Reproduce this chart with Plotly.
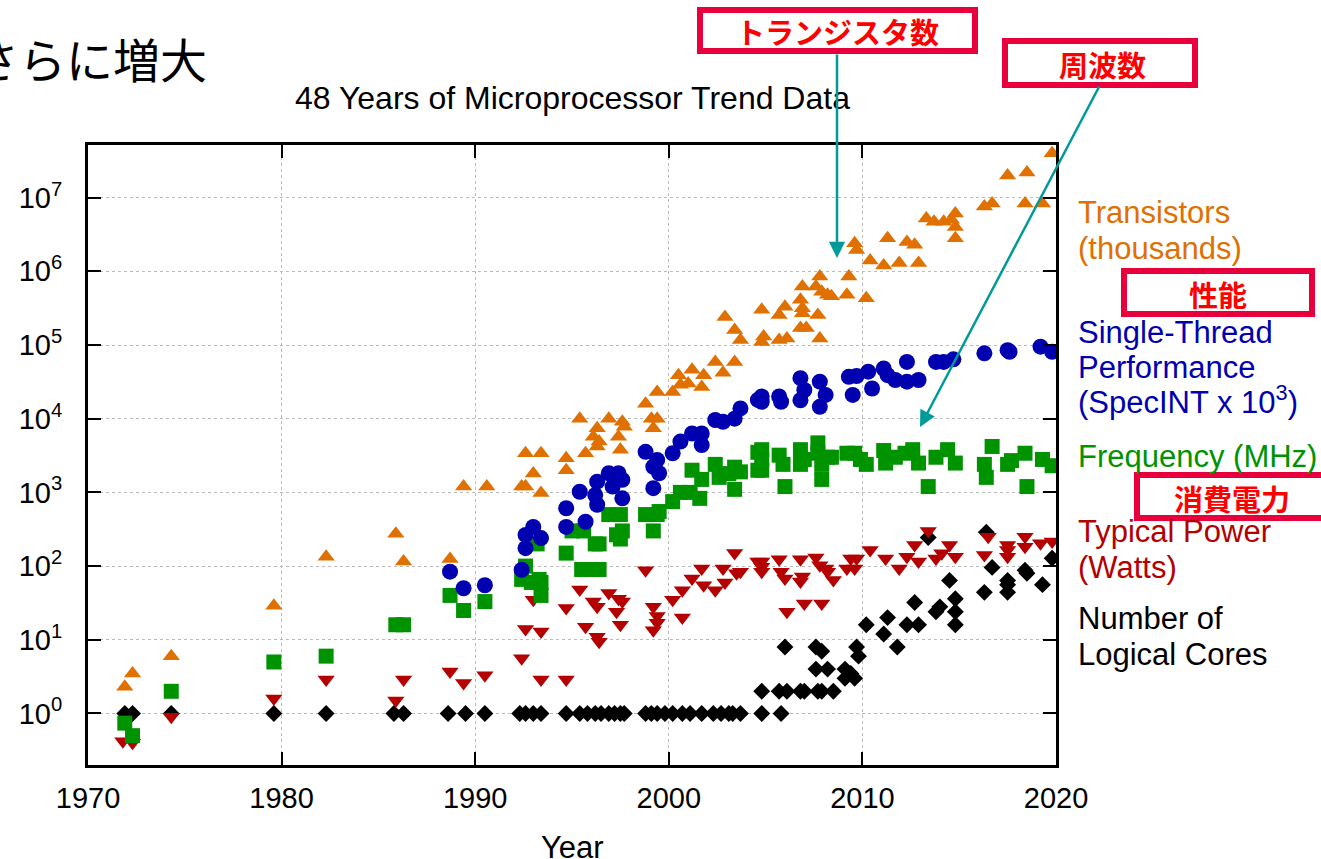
import plotly.graph_objects as go

# ---------------- data ----------------
tr_years = [1971.9, 1972.3, 1974.3, 1979.6, 1982.3, 1985.9, 1986.3, 1988.7, 1989.4, 1990.6,
            1992.4, 1992.6, 1993.4, 1993.0, 1992.6, 1993.4, 1994.7, 1994.7, 1995.4, 1995.7,
            1996.1, 1996.3, 1996.3, 1996.4, 1996.9, 1997.4, 1997.5, 1997.6, 1997.7, 1998.8,
            1999.1, 1999.4, 1999.2, 1999.4, 2000.2, 2000.5, 2000.6, 2001.2, 2001.8, 2001.7,
            2001.0, 2002.4, 2002.8, 2003.4, 2002.9, 2003.4, 2003.7, 2004.8, 2004.9, 2004.8,
            2005.7, 2006.0, 2005.7, 2006.1, 2006.8, 2006.9, 2006.9, 2006.8, 2007.1, 2007.7,
            2007.8, 2006.9, 2007.6, 2007.8, 2007.9, 2008.2, 2008.4, 2009.2, 2009.3, 2010.2,
            2009.6, 2009.7, 2010.4, 2011.1, 2011.9, 2012.9, 2011.3, 2012.3, 2012.7, 2013.3,
            2013.7, 2014.2, 2014.6, 2014.8, 2014.8, 2014.8, 2016.3, 2016.7, 2017.5, 2018.5,
            2018.4, 2019.3, 2019.8]
tr_values = [2.3, 3.5, 6.0, 29, 134, 275, 115, 125, 1200, 1200,
             1200, 1200, 980, 1800, 3400, 3400, 2900, 2000, 10000, 3400,
             5700, 7400, 4200, 4900, 10000, 5700, 3800, 9100, 7800, 16000,
             10000, 10000, 7400, 23000, 23000, 39000, 29000, 46000, 39000, 27000,
             30000, 59000, 42000, 59000, 240000, 160000, 117000, 300000, 130000, 110000,
             255000, 330000, 117000, 123000, 410000, 316000, 270000, 170000, 170000, 255000,
             123000, 620000, 620000, 850000, 530000, 480000, 460000, 480000, 850000, 430000,
             2400000, 1950000, 1400000, 1200000, 1300000, 1300000, 2800000, 2500000, 2300000, 5200000,
             4700000, 4700000, 5000000, 6100000, 4000000, 2800000, 7600000, 8300000, 20000000, 22000000,
             8300000, 8300000, 40000000]

st_years = [1988.7, 1989.4, 1990.5, 1992.4, 1992.6, 1992.6, 1993.0, 1993.4, 1994.7, 1994.7,
            1995.7, 1995.4, 1996.2, 1996.3, 1996.3, 1996.9, 1997.4, 1997.6, 1997.6, 1997.1,
            1998.8, 1999.2, 1999.4, 1999.5, 1999.2, 2000.2, 2000.6, 2001.2, 2001.7, 2001.7,
            2002.4, 2002.8, 2003.4, 2003.7, 2004.6, 2004.8, 2004.8, 2005.7, 2005.8, 2006.8,
            2006.8, 2007.0, 2007.8, 2007.8, 2008.1, 2009.3, 2009.7, 2010.3, 2009.5, 2010.5,
            2011.1, 2011.3, 2011.7, 2012.3, 2012.9, 2012.3, 2013.8, 2014.2, 2014.7, 2016.3,
            2017.5, 2017.6, 2019.2, 2019.8]
st_values = [84, 50, 55, 89, 175, 265, 340, 240, 340, 610,
             400, 1020, 920, 680, 1400, 1820, 1820, 1480, 830, 1200,
             3550, 2230, 2760, 1820, 1140, 3400, 4900, 6300, 6300, 4400,
             9600, 9100, 10000, 13800, 18000, 20000, 17000, 20000, 17000, 35500,
             17800, 24500, 31800, 14500, 21000, 37000, 38000, 43500, 21000, 25700,
             48000, 39000, 33500, 31800, 33500, 59000, 59000, 59000, 64000, 77000,
             85000, 81000, 95000, 81000]

fq_years = [1971.9, 1972.3, 1974.3, 1979.6, 1982.3, 1985.9, 1986.3, 1988.7, 1989.4, 1990.5,
            1992.4, 1992.6, 1992.9, 1993.3, 1993.4, 1993.4, 1993.2, 1995.0, 1995.6, 1994.7,
            1996.2, 1996.4, 1995.5, 1996.0, 1996.4, 1996.9, 1997.5, 1997.3, 1997.6, 1997.5,
            1998.8, 1999.4, 1999.2, 1999.5, 2000.2, 2000.6, 2001.1, 2001.6, 2001.2, 2001.7,
            2002.4, 2002.6, 2003.1, 2003.4, 2003.7, 2003.4, 2004.6, 2004.6, 2004.8, 2004.8,
            2004.8, 2005.7, 2005.9, 2006.0, 2006.8, 2006.8, 2007.0, 2007.7, 2007.7, 2007.9,
            2007.9, 2008.2, 2008.4, 2009.2, 2009.6, 2009.9, 2010.2, 2011.1, 2011.2, 2011.7,
            2012.2, 2012.6, 2012.9, 2013.4, 2013.8, 2014.4, 2014.8, 2016.3, 2016.4, 2016.7,
            2017.5, 2017.7, 2018.4, 2018.5, 2019.3, 2019.8]
fq_values = [0.74, 0.5, 2, 5, 6, 16, 16, 40, 25, 33,
             66, 100, 60, 66, 60, 40, 200, 300, 300, 150,
             200, 200, 90, 90, 90, 500, 500, 266, 300, 233,
             500, 500, 300, 550, 750, 1000, 1000, 830, 2000, 1500,
             2400, 1600, 1800, 2200, 1900, 1100, 3500, 2000, 3800, 2800,
             2000, 3200, 2400, 1200, 3800, 2400, 2800, 4700, 3400, 2400,
             1500, 3000, 3000, 3400, 3400, 2800, 2400, 3700, 2500, 3000,
             3400, 3800, 2500, 1200, 3000, 3800, 2500, 2400, 1600, 4200,
             2400, 2700, 3400, 1200, 2800, 2300]

pw_years = [1971.8, 1972.3, 1974.3, 1979.6, 1982.3, 1985.9, 1986.3, 1988.7, 1989.4, 1990.5,
            1992.4, 1993.4, 1994.7, 1993.0, 1992.6, 1993.4, 1994.7, 1995.4, 1995.7, 1996.1,
            1996.3, 1996.3, 1996.4, 1996.9, 1997.4, 1997.6, 1997.3, 1997.5, 1998.8, 1999.2,
            1999.4, 1999.4, 1999.2, 2000.2, 2000.7, 2000.7, 2001.2, 2001.7, 2001.8, 2002.4,
            2002.8, 2002.9, 2003.4, 2003.5, 2003.7, 2004.6, 2004.8, 2004.8, 2004.8, 2005.7,
            2005.8, 2006.0, 2006.1, 2006.8, 2006.9, 2006.8, 2007.0, 2007.6, 2007.9, 2007.8,
            2008.1, 2008.2, 2008.5, 2009.2, 2009.4, 2009.7, 2009.6, 2010.4, 2011.2, 2011.9,
            2012.3, 2012.7, 2012.9, 2013.4, 2013.8, 2014.1, 2014.5, 2014.8, 2016.3, 2016.5,
            2017.5, 2017.5, 2017.5, 2018.4, 2018.4, 2019.2, 2019.8]
pw_values = [0.42, 0.4, 0.9, 1.6, 2.9, 1.5, 2.9, 3.7, 2.6, 3.3,
             5.6, 2.9, 2.9, 35, 14, 13, 27, 48, 15, 33,
             28, 11, 9.4, 43, 36, 33, 24, 16, 88, 28,
             21, 17, 13.5, 35, 47, 20, 68, 93, 55, 47,
             93, 60, 150, 80, 84, 115, 115, 98, 84, 124,
             84, 68, 24, 124, 72, 62, 31, 131, 31, 103,
             93, 84, 65, 93, 127, 127, 93, 165, 127, 93,
             134, 193, 115, 300, 127, 149, 193, 134, 141, 250,
             193, 165, 134, 250, 183, 204, 215]

co_years = [1971.9, 1972.3, 1974.3, 1979.6, 1982.3, 1985.8, 1986.3, 1988.6, 1989.5, 1990.5,
            1992.3, 1992.6, 1993.0, 1993.4, 1994.7, 1995.4, 1995.8, 1996.2, 1996.5, 1996.9,
            1997.2, 1997.5, 1997.7, 1998.8, 1999.1, 1999.4, 1999.8, 2000.2, 2000.7, 2001.1,
            2001.7, 2002.3, 2002.7, 2003.1, 2003.3, 2003.7, 2004.8, 2005.8,
            2004.8, 2005.7, 2006.1, 2006.8, 2007.0, 2007.7, 2007.9, 2008.5,
            2007.6, 2008.2, 2009.1, 2009.4, 2009.6, 2009.1,
            2006.0, 2007.6, 2007.9, 2009.7, 2009.8, 2011.8,
            2010.2, 2011.1, 2011.3, 2012.3, 2012.9, 2012.7, 2013.8, 2014.0, 2014.5, 2014.8,
            2014.8, 2014.8, 2013.4, 2016.4, 2016.7, 2016.3, 2017.5, 2017.5, 2017.5, 2018.4,
            2018.5, 2019.3, 2019.8]
co_values = [1, 1, 1, 1, 1, 1, 1, 1, 1, 1,
             1, 1, 1, 1, 1, 1, 1, 1, 1, 1,
             1, 1, 1, 1, 1, 1, 1, 1, 1, 1,
             1, 1, 1, 1, 1, 1, 1, 1,
             2, 2, 2, 2, 2, 2, 2, 2,
             4, 4, 4, 3.5, 3, 3,
             8, 8, 7, 8, 6, 8,
             16, 12, 20, 16, 16, 32, 24, 28, 64, 16,
             24, 36, 244, 288, 96, 44, 64, 56, 44, 88,
             80, 56, 128]

x_tick_vals = [1970, 1980, 1990, 2000, 2010, 2020]
x_tick_text = ["1970", "1980", "1990", "2000", "2010", "2020"]
y_tick_vals = [1, 10, 100, 1e3, 1e4, 1e5, 1e6, 1e7]
y_tick_text = ["10<sup>0</sup>", "10<sup>1</sup>", "10<sup>2</sup>", "10<sup>3</sup>",
               "10<sup>4</sup>", "10<sup>5</sup>", "10<sup>6</sup>", "10<sup>7</sup>"]

# ---------------- styling ----------------
W, H = 1321, 859
L, R, T, B = 88, 1056, 145, 765   # plot area in pixels
ORANGE, BLUE, GREEN, RED, BLACK = "#E07000", "#0000B0", "#009300", "#B40000", "#000000"
TEAL = "#009A9A"
BOXRED = "#E8003C"
FONT = "Liberation Sans, Arial, Helvetica, sans-serif"
JFONT = "Noto Sans CJK JP, sans-serif"


def px(x):
    return (x - L) / (R - L)


def py(y):
    return (B - y) / (B - T)


fig = go.Figure()
series = [
    (co_years, co_values, "diamond", 13, BLACK, "Number of Logical Cores"),
    (pw_years, pw_values, "triangle-down", 15, RED, "Typical Power (Watts)"),
    (fq_years, fq_values, "square", 15, GREEN, "Frequency (MHz)"),
    (st_years, st_values, "circle", 16, BLUE, "Single-Thread Performance"),
    (tr_years, tr_values, "triangle-up", 15, ORANGE, "Transistors (thousands)"),
]
for xs, ys, sym, size, col, name in series:
    fig.add_trace(go.Scatter(x=xs, y=ys, mode="markers", name=name,
                             marker=dict(symbol=sym, size=size, color=col, line=dict(width=0)),
                             cliponaxis=True, showlegend=False))

axis_common = dict(showline=True, linewidth=3, linecolor="black", mirror="ticks",
                   ticks="inside", ticklen=13, tickwidth=2, tickcolor="black",
                   showgrid=True, gridcolor="#BBBBBB", griddash="dot", gridwidth=1,
                   zeroline=False, tickfont=dict(family=FONT, size=29, color="black"))

fig.update_xaxes(range=[1970, 2020], tickmode="array", tickvals=x_tick_vals,
                 ticktext=x_tick_text, ticklabelstandoff=5, **axis_common)
fig.update_yaxes(type="log", range=[-0.699, 7.714], tickmode="array",
                 tickvals=y_tick_vals, ticktext=y_tick_text, ticklabelstandoff=17,
                 **axis_common)

ann = []
# headline (partially cut at the left edge)
ann.append(dict(text="さらに増大", x=px(-30), y=py(57), xref="paper", yref="paper",
                xanchor="left", yanchor="middle", showarrow=False,
                font=dict(family=JFONT, size=47, color="black")))
# chart title and x axis title
ann.append(dict(text="48 Years of Microprocessor Trend Data", x=px(572), y=py(98),
                xref="paper", yref="paper", xanchor="center", yanchor="middle",
                showarrow=False, font=dict(family=FONT, size=32, color="black")))
ann.append(dict(text="Year", x=px(572), y=py(847), xref="paper", yref="paper",
                xanchor="center", yanchor="middle", showarrow=False,
                font=dict(family=FONT, size=31, color="black")))

# series labels on the right
labels = [
    ("Transistors", 213, ORANGE), ("(thousands)", 248, ORANGE),
    ("Single-Thread", 332, BLUE), ("Performance", 367, BLUE),
    ("(SpecINT x 10<sup>3</sup>)", 400, BLUE),
    ("Frequency (MHz)", 457, GREEN),
    ("Typical Power", 531, RED), ("(Watts)", 567, RED),
    ("Number of", 618, BLACK), ("Logical Cores", 654, BLACK),
]
for txt, yy, col in labels:
    ann.append(dict(text=txt, x=px(1076), y=py(yy), xref="paper", yref="paper",
                    xanchor="left", yanchor="middle", showarrow=False,
                    font=dict(family=FONT, size=31, color=col)))

# red callout boxes
boxes = [
    ("トランジスタ数", 700, 10, 975, 51, 837),
    ("周波数", 1005, 41, 1195, 85, 1102),
    ("性能", 1124, 271, 1312, 314, 1218),
    ("消費電力", 1137, 475, 1330, 518, 1232),
]
shapes = []
for txt, x0, y0, x1, y1, cx in boxes:
    shapes.append(dict(type="rect", xref="paper", yref="paper",
                       x0=px(x0), x1=px(x1), y0=py(y1), y1=py(y0),
                       line=dict(color=BOXRED, width=6), fillcolor="white", layer="above"))
for txt, x0, y0, x1, y1, cx in boxes:
    ann.append(dict(text="<b>" + txt + "</b>", x=px(cx), y=py((y0 + y1) / 2 + 1),
                    xref="paper", yref="paper", xanchor="center", yanchor="middle",
                    showarrow=False, font=dict(family=JFONT, size=29, color="#FF0000")))

# teal arrows
ann.append(dict(text="", x=px(837), y=py(258), xref="paper", yref="paper",
                ax=0, ay=-205, axref="pixel", ayref="pixel", showarrow=True,
                arrowhead=2, arrowsize=1.3, arrowwidth=2.5, arrowcolor=TEAL, standoff=0))
ann.append(dict(text="", x=px(920), y=py(427), xref="paper", yref="paper",
                ax=180, ay=-342, axref="pixel", ayref="pixel", showarrow=True,
                arrowhead=2, arrowsize=1.3, arrowwidth=2.5, arrowcolor=TEAL, standoff=0))

fig.update_layout(width=W, height=H, margin=dict(l=L, r=W - R, t=T, b=H - B),
                  paper_bgcolor="white", plot_bgcolor="white",
                  annotations=ann, shapes=shapes, showlegend=False)

fig.write_html("out.html", config={"displayModeBar": False},
               post_script="document.body.style.margin='0px';document.body.style.overflow='hidden';")
